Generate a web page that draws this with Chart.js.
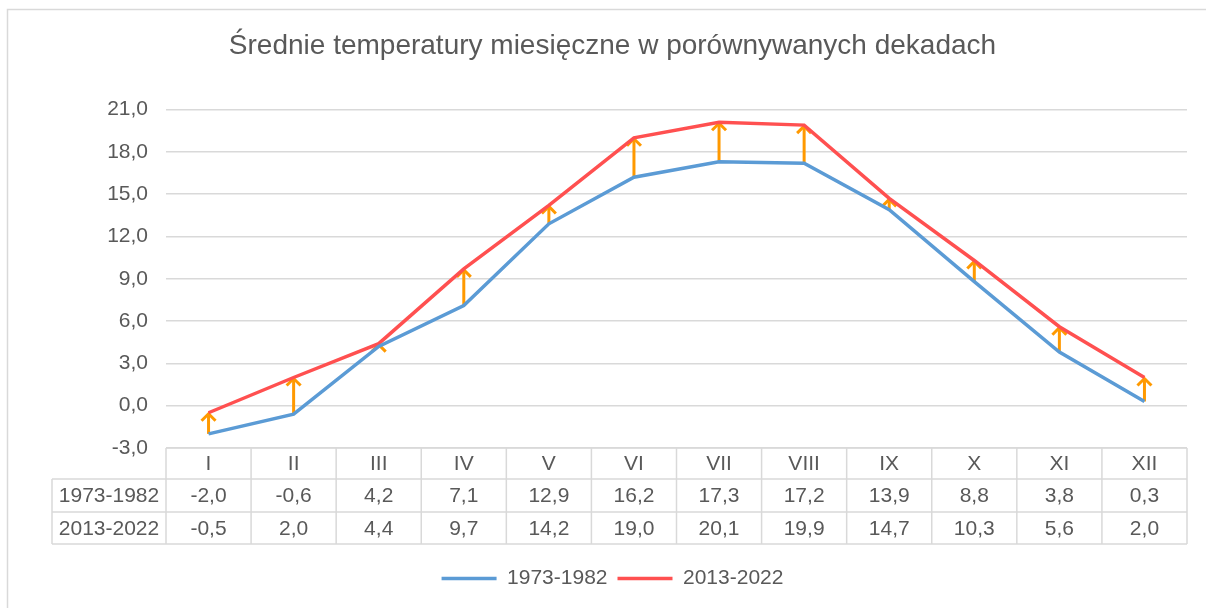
<!DOCTYPE html>
<html>
<head>
<meta charset="utf-8">
<style>
  html, body { margin: 0; padding: 0; background: #fff; }
  #wrap { width: 1206px; height: 608px; }
</style>
</head>
<body>
<div id="wrap">
    <canvas id="myChart"></canvas>
</div>

<script src="https://cdn.jsdelivr.net/npm/chart.js"></script>
<script>
    var months = ["I", "II", "III", "IV", "V", "VI", "VII", "VIII", "IX", "X", "XI", "XII"]
    var seriesNames = ["1973-1982", "2013-2022"]
    var temp1973 = [-2.0, -0.6, 4.2, 7.1, 12.9, 16.2, 17.3, 17.2, 13.9, 8.8, 3.8, 0.3]
    var temp2013 = [-0.5, 2.0, 4.4, 9.7, 14.2, 19.0, 20.1, 19.9, 14.7, 10.3, 5.6, 2.0]
    var yMin = -3, yMax = 21, yStep = 3

    var gray = '#595959'
    var lineGray = '#D9D9D9'
    var fontFam = "'Liberation Sans', Arial, sans-serif"

    function fmt(v) {
      return v.toFixed(1).replace('.', ',')
    }

    //** frame around the chart (Excel style)
    var framePlugin = {
      id: 'frame',
      beforeDraw(chart) {
        var ctx = chart.ctx
        ctx.save()
        ctx.fillStyle = '#fff'
        ctx.fillRect(0, 0, chart.width, chart.height)
        ctx.strokeStyle = lineGray
        ctx.lineWidth = 1.5
        ctx.strokeRect(7.5, 9.5, 1400, 800)
        ctx.restore()
      }
    }

    //** orange arrows from old to new value
    var arrowPlugin = {
      id: 'arrows',
      beforeDatasetsDraw(chart) {
        var ctx = chart.ctx
        var x = chart.scales.x, y = chart.scales.y
        ctx.save()
        ctx.strokeStyle = '#FF9900'
        ctx.lineWidth = 3
        ctx.lineCap = 'butt'
        for (var i = 0; i < months.length; i++) {
          var px = x.getPixelForValue(i)
          var y1 = y.getPixelForValue(temp1973[i])
          var y2 = y.getPixelForValue(temp2013[i])
          ctx.beginPath()
          ctx.moveTo(px, y1)
          ctx.lineTo(px, y2 + 1)
          ctx.stroke()
          ctx.beginPath()
          ctx.moveTo(px - 7, y2 + 8)
          ctx.lineTo(px, y2 + 1)
          ctx.lineTo(px + 7, y2 + 8)
          ctx.stroke()
        }
        ctx.restore()
      }
    }

    //** data table under the plot
    var tablePlugin = {
      id: 'dataTable',
      afterDraw(chart) {
        var ctx = chart.ctx
        var area = chart.chartArea
        var x = chart.scales.x
        var colW = (area.right - area.left) / months.length
        var top = area.bottom
        var rows = [top, top + 31, top + 64, top + 96]
        var labelLeft = 52
        ctx.save()
        ctx.strokeStyle = lineGray
        ctx.lineWidth = 1.5
        // horizontal lines
        ctx.beginPath()
        ctx.moveTo(area.left, rows[0]); ctx.lineTo(area.right, rows[0])
        for (var r = 1; r < rows.length; r++) {
          ctx.moveTo(labelLeft, rows[r]); ctx.lineTo(area.right, rows[r])
        }
        // vertical lines
        ctx.moveTo(labelLeft, rows[1]); ctx.lineTo(labelLeft, rows[3])
        for (var c = 0; c <= months.length; c++) {
          var cx = area.left + c * colW
          ctx.moveTo(cx, rows[0]); ctx.lineTo(cx, rows[3])
        }
        ctx.stroke()

        ctx.fillStyle = gray
        ctx.font = '21px ' + fontFam
        ctx.textAlign = 'center'
        ctx.textBaseline = 'middle'
        var values = [temp1973, temp2013]
        for (var i = 0; i < months.length; i++) {
          var px = x.getPixelForValue(i)
          ctx.fillText(months[i], px, (rows[0] + rows[1]) / 2 + 1)
          ctx.fillText(fmt(values[0][i]), px, (rows[1] + rows[2]) / 2 + 1)
          ctx.fillText(fmt(values[1][i]), px, (rows[2] + rows[3]) / 2 + 1)
        }
        var labelX = (labelLeft + area.left) / 2
        ctx.fillText(seriesNames[0], labelX, (rows[1] + rows[2]) / 2 + 1)
        ctx.fillText(seriesNames[1], labelX, (rows[2] + rows[3]) / 2 + 1)
        ctx.restore()
      }
    }

    const ctx = document.getElementById('myChart');

    new Chart(ctx, {
      type: 'line',
      data: {
        labels: months,
        datasets: [{
          label: seriesNames[0],
          data: temp1973,
          borderColor: '#5B9BD5',
          backgroundColor: '#5B9BD5',
          borderWidth: 3.5,
          pointRadius: 0,
          tension: 0
        }, {
          label: seriesNames[1],
          data: temp2013,
          borderColor: '#FF5050',
          backgroundColor: '#FF5050',
          borderWidth: 3.5,
          pointRadius: 0,
          tension: 0
        }]
      },
      plugins: [framePlugin, arrowPlugin, tablePlugin],
      options: {
        responsive: true,
        maintainAspectRatio: false,
        animation: false,
        events: [],
        layout: {
          padding: { top: 0, left: 38, right: 19, bottom: 9 }
        },
        plugins: {
          title: {
            display: true,
            text: 'Średnie temperatury miesięczne w porównywanych dekadach',
            color: gray,
            font: { family: fontFam, size: 28, weight: 'normal' },
            padding: { top: 29, bottom: 47 }
          },
          legend: {
            position: 'bottom',
            labels: {
              color: gray,
              font: { family: fontFam, size: 21 },
              usePointStyle: true,
              pointStyle: 'line',
              pointStyleWidth: 55,
              padding: 10
            }
          },
          tooltip: { enabled: false }
        },
        scales: {
          x: {
            offset: true,
            ticks: { display: false },
            grid: { display: false },
            border: { display: false },
            afterFit: function(scale) { scale.height = 110 }
          },
          y: {
            min: yMin,
            max: yMax,
            ticks: {
              stepSize: yStep,
              color: gray,
              font: { family: fontFam, size: 21 },
              padding: 18,
              callback: function(value) { return fmt(value) }
            },
            grid: { color: lineGray, lineWidth: 1.5, drawTicks: false },
            border: { display: false },
            afterFit: function(scale) { scale.width = 128 }
          }
        }
      }
    });
  </script>
</body>
</html>
